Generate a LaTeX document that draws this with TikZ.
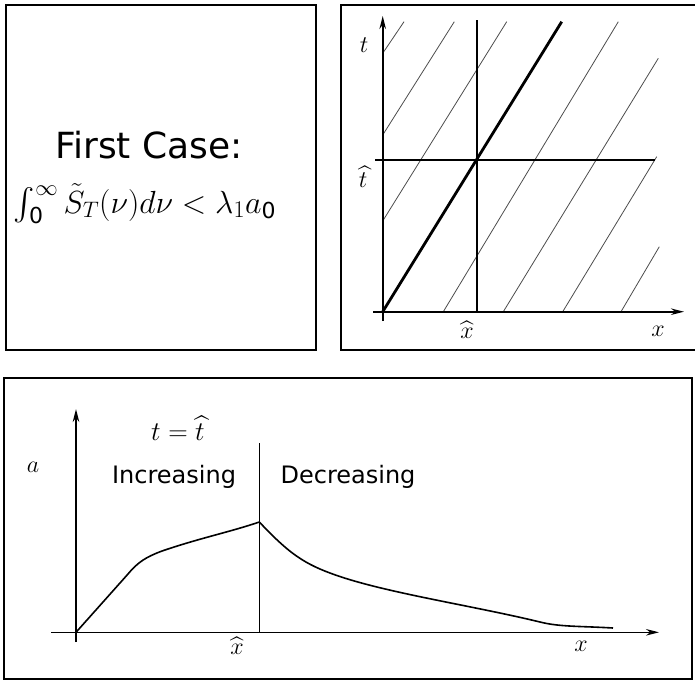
\RequirePackage{fix-cm}
\documentclass[tikz,border=0pt]{standalone}
\usepackage{fontspec}
\setsansfont{DejaVu Sans}
\DeclareFontShape{OMX}{cmex}{m}{n}{<->cmex10}{}
\usetikzlibrary{arrows.meta}
\newcommand{\sfsub}[1]{\hbox{\fontsize{22}{22}\selectfont\sffamily #1}}
\newcommand{\rmsub}[1]{\hbox{\fontencoding{OT1}\fontfamily{cmr}\fontsize{24}{24}\selectfont #1}}
\begin{document}
\begin{tikzpicture}[x=1pt,y=-1pt,
  frame/.style={line width=2pt},
  axis/.style={line width=1.6pt,-{Stealth[length=13pt,width=6.5pt]}},
  plainline/.style={line width=1.6pt},
  hatch/.style={line width=0.8pt,black!70},
  thickline/.style={line width=2.8pt},
  curve/.style={line width=1.6pt,line join=round},
  lab/.style={inner sep=0pt,font=\fontsize{24}{28}\selectfont},
  sanslab/.style={inner sep=0pt,font=\fontsize{24}{28}\selectfont\sffamily}]
\useasboundingbox (0,0) rectangle (695,681);
% frames
\draw[frame] (6,5) rectangle (316,350);
\draw[frame] (341,5) rectangle (700,350);
\draw[frame] (4,378) rectangle (692,679);
% --- first box text
\node[anchor=base,inner sep=0pt,font=\fontsize{36}{40}\selectfont\sffamily] (title) at (149,158) {First Case:};
\node[anchor=base,inner sep=0pt,font=\fontsize{32}{36}\selectfont] (cond) at (145,213)
  {$\int_{\sfsub{0}}^{\infty}\tilde S_T(\nu)d\nu<\lambda_{\rmsub{1}}a_{\sfsub{0}}$};
% --- characteristics diagram
\coordinate (O) at (382.7,311.7);
\coordinate (tb) at (382.7,321);
\coordinate (tt) at (382.7,16);
\coordinate (xl) at (373,311.7);
\coordinate (xr) at (684,311.7);
\coordinate (vb) at (476.7,311.7);
\coordinate (vt) at (476.7,20);
\coordinate (hl) at (375,160);
\coordinate (hr) at (655,160);
\coordinate (thk) at (561.7,21.7);
\draw[hatch] (382.7,53.3) -- (404,21.7);
\draw[hatch] (382.7,135) -- (454.3,21.7);
\draw[hatch] (382.7,221) -- (506.7,21.7);
\draw[hatch] (443.3,311.7) -- (618.3,21.7);
\draw[hatch] (503.3,311.7) -- (658.3,58.3);
\draw[hatch] (562.7,311.7) -- (656.7,156.7);
\draw[hatch] (621,311.7) -- (659.3,246.7);
\draw[axis] (tb) -- (tt);
\draw[axis] (xl) -- (xr);
\draw[plainline] (vb) -- (vt);
\draw[plainline] (hl) -- (hr);
\draw[thickline] (O) -- (thk);
\node[lab] (tlab) at (364,45) {$t$};
\node[lab] (thlab) at (363,177) {$\widehat{t}$};
\node[lab] (xhlab) at (467,330) {$\widehat{x}$};
\node[lab] (xlab) at (658,331) {$x$};
% --- profile at t = that
\coordinate (O2) at (76,632.3);
\coordinate (yb) at (76,642);
\coordinate (yt) at (76,409);
\coordinate (xl2) at (51,632.3);
\coordinate (xr2) at (659,632.3);
\coordinate (pb) at (259.3,632.3);
\coordinate (pt) at (259.3,443);
\coordinate (peak) at (259.3,522);
\coordinate (tail) at (613,628);
\draw[axis] (yb) -- (yt);
\draw[axis] (xl2) -- (xr2);
\draw[plainline] (pb) -- (pt);
\draw[curve] (O2) -- (128,574) .. controls (138,562) and (146,557) .. (162,551)
  .. controls (200,538) and (230,532) .. (peak);
\draw[curve] (peak) .. controls (285,549) and (300,562) .. (330,573)
  .. controls (380,592) and (470,605) .. (540,622)
  .. controls (560,627) and (580,626) .. (tail);
\node[lab] (alab) at (33,467) {$a$};
\node[lab,font=\fontsize{27}{30}\selectfont] (tt2) at (178,428) {$t=\widehat{t}$};
\node[sanslab,anchor=base] (inc) at (174,483) {Increasing};
\node[sanslab,anchor=base] (dec) at (348,483) {Decreasing};
\node[lab] (xh2) at (237,646) {$\widehat{x}$};
\node[lab] (x2) at (581,646) {$x$};
\end{tikzpicture}
\end{document}
